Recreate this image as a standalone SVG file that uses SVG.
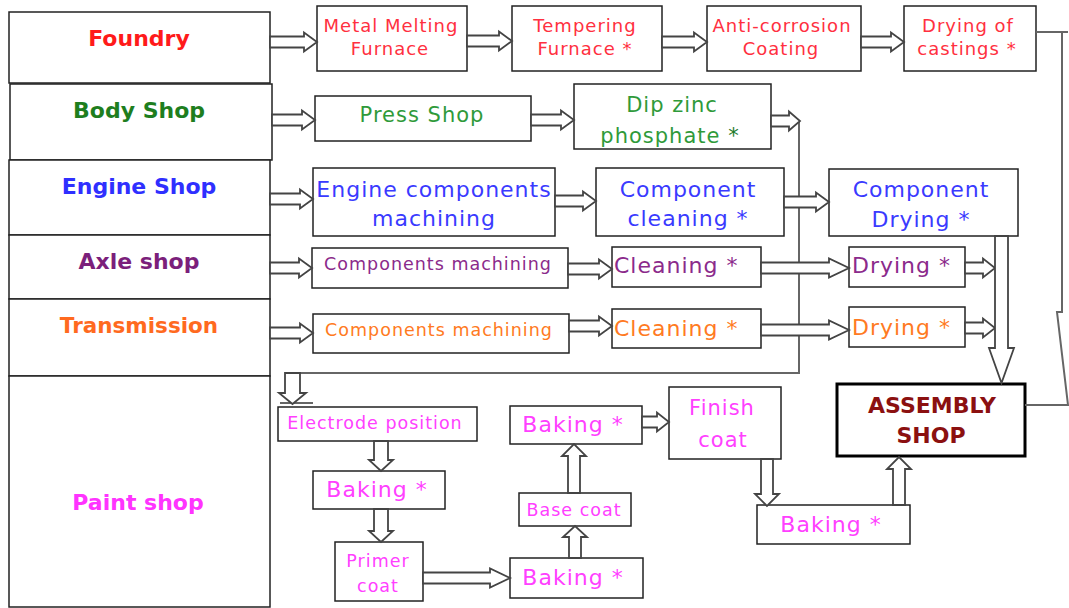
<svg xmlns="http://www.w3.org/2000/svg" width="1069" height="608" viewBox="0 0 1069 608">
<style>
.box{fill:#fff;stroke:#222;stroke-width:1.5}
.asm{fill:#fff;stroke:#000;stroke-width:3}
.arr{fill:#fff;stroke:#444;stroke-width:1.8;stroke-linejoin:miter}
.ln{fill:none;stroke:#666;stroke-width:2}
text{font-family:"DejaVu Sans","Liberation Sans",sans-serif;text-anchor:middle;letter-spacing:1px}
.lbl{font-weight:bold;font-size:22px;letter-spacing:0}
.f{fill:#ff3040;font-size:18px}
.b{fill:#2f9a3a;font-size:21px}
.e{fill:#3a3aff;font-size:22px}
.a{fill:#8b2a8b}
.t{fill:#ff7a22}
.p{fill:#ff40ff}
.s17{font-size:17.5px}
.s22{font-size:22px}
.st{text-anchor:start}
</style>

<g id="foundry"><rect class="box" x="9" y="12" width="261" height="71"/><text class="lbl" x="139" y="46" fill="#ff1a1a">Foundry</text></g>
<g id="body-shop"><rect class="box" x="10" y="84" width="262" height="76"/><text class="lbl" x="139" y="118" fill="#1e7e1e">Body Shop</text></g>
<g id="engine-shop"><rect class="box" x="9" y="160" width="261" height="75"/><text class="lbl" x="139" y="194" fill="#2f2fff">Engine Shop</text></g>
<g id="axle-shop"><rect class="box" x="9" y="235" width="261" height="64"/><text class="lbl" x="139" y="269" fill="#7b1f7b">Axle shop</text></g>
<g id="transmission"><rect class="box" x="9" y="299" width="261" height="77"/><text class="lbl" x="139" y="333" fill="#ff6a1f" style="font-size:21.5px">Transmission</text></g>
<g id="paint-shop"><rect class="box" x="9" y="376" width="261" height="231"/><text class="lbl" x="138" y="510" fill="#ff33ff">Paint shop</text></g>

<g id="metal-melting"><rect class="box" x="317" y="6" width="150" height="65"/><text class="f" x="391" y="32">Metal Melting</text><text class="f" x="390" y="55">Furnace</text></g>
<g id="tempering"><rect class="box" x="512" y="6" width="150" height="65"/><text class="f" x="585" y="32">Tempering</text><text class="f" x="585" y="55">Furnace *</text></g>
<g id="anti-corrosion"><rect class="box" x="707" y="6" width="154" height="65"/><text class="f" x="782" y="32">Anti-corrosion</text><text class="f" x="781" y="55">Coating</text></g>
<g id="drying-castings"><rect class="box" x="904" y="6" width="132" height="65"/><text class="f" x="968" y="32">Drying of</text><text class="f" x="967" y="55">castings *</text></g>

<g id="press-shop"><rect class="box" x="315" y="96" width="216" height="45"/><text class="b" x="422" y="122">Press Shop</text></g>
<g id="dip-zinc"><rect class="box" x="574" y="84" width="197" height="65"/><text class="b" x="672" y="112">Dip zinc</text><text class="b" x="670" y="143">phosphate <tspan fill="#1d7a2a">*</tspan></text></g>

<g id="engine-machining"><rect class="box" x="313" y="168" width="242" height="68"/><text class="e" x="434" y="197">Engine components</text><text class="e" x="434" y="226">machining</text></g>
<g id="component-cleaning"><rect class="box" x="596" y="168" width="188" height="68"/><text class="e" x="688" y="197">Component</text><text class="e" x="688" y="226">cleaning *</text></g>
<g id="component-drying"><rect class="box" x="829" y="169" width="189" height="67"/><text class="e" x="921" y="197">Component</text><text class="e" x="921" y="227">Drying *</text></g>

<g id="axle-machining"><rect class="box" x="312" y="248" width="256" height="40"/><text class="a s17" x="438" y="270">Components machining</text></g>
<g id="axle-cleaning"><rect class="box" x="612" y="247" width="149" height="40"/><text class="a s22 st" x="614" y="273">Cleaning *</text></g>
<g id="axle-drying"><rect class="box" x="849" y="247" width="116" height="40"/><text class="a s22 st" x="852" y="273">Drying *</text></g>

<g id="trans-machining"><rect class="box" x="313" y="314" width="256" height="39"/><text class="t s17" x="439" y="336">Components machining</text></g>
<g id="trans-cleaning"><rect class="box" x="612" y="309" width="149" height="39"/><text class="t s22 st" x="614" y="336">Cleaning *</text></g>
<g id="trans-drying"><rect class="box" x="849" y="307" width="116" height="40"/><text class="t s22 st" x="852" y="335">Drying *</text></g>

<g id="electrode"><rect class="box" x="278" y="407" width="199" height="34"/><text class="p s17" x="375" y="429">Electrode position</text></g>
<g id="baking-1"><rect class="box" x="313" y="471" width="132" height="38"/><text class="p s22" x="377" y="497">Baking *</text></g>
<g id="primer"><rect class="box" x="335" y="542" width="88" height="59"/><text class="p s17" x="378" y="567">Primer</text><text class="p s17" x="378" y="592">coat</text></g>
<g id="baking-2"><rect class="box" x="510" y="558" width="133" height="40"/><text class="p s22" x="573" y="585">Baking *</text></g>
<g id="base-coat"><rect class="box" x="519" y="493" width="112" height="33"/><text class="p s17" x="574" y="516">Base coat</text></g>
<g id="baking-3"><rect class="box" x="510" y="406" width="132" height="38"/><text class="p s22" x="573" y="432">Baking *</text></g>
<g id="finish-coat"><rect class="box" x="669" y="387" width="112" height="72"/><text class="p" x="722" y="415" style="font-size:21px">Finish</text><text class="p" x="723" y="447" style="font-size:21px">coat</text></g>
<g id="baking-4"><rect class="box" x="757" y="505" width="153" height="39"/><text class="p s22" x="831" y="532">Baking *</text></g>

<g id="assembly"><rect class="asm" x="837" y="384" width="188" height="72"/><text class="lbl" x="932" y="413" fill="#8b1010">ASSEMBLY</text><text class="lbl" x="931" y="443" fill="#8b1010">SHOP</text></g>

<g id="connectors">
<path class="ln" d="M1036,32 H1068 M1062,32 V312 H1057 L1068,405 H1025"/>
<path class="ln" d="M799,121 V373 H285"/>
<path class="ln" d="M280,403 H313"/>
<path class="arr" d="M270,36.5 H304 V32.5 L317,42 L304,51.5 V47.5 H270 Z"/>
<path class="arr" d="M272,114.5 H302 V110.5 L315,120 L302,129.5 V125.5 H272 Z"/>
<path class="arr" d="M270,193.5 H300 V189.5 L313,199 L300,208.5 V204.5 H270 Z"/>
<path class="arr" d="M270,262.5 H299 V258.5 L312,268 L299,277.5 V273.5 H270 Z"/>
<path class="arr" d="M270,327.5 H300 V323.5 L313,333 L300,342.5 V338.5 H270 Z"/>
<path class="arr" d="M467,35.5 H499 V31.5 L512,41 L499,50.5 V46.5 H467 Z"/>
<path class="arr" d="M662,36.5 H694 V32.5 L707,42 L694,51.5 V47.5 H662 Z"/>
<path class="arr" d="M861,36.5 H891 V32.5 L904,42 L891,51.5 V47.5 H861 Z"/>
<path class="arr" d="M531,114.5 H561 V110.5 L574,120 L561,129.5 V125.5 H531 Z"/>
<path class="arr" d="M771,115.5 H789 V111.5 L800,121 L789,130.5 V126.5 H771 Z"/>
<path class="arr" d="M555,195.5 H583 V191.5 L596,201 L583,210.5 V206.5 H555 Z"/>
<path class="arr" d="M784,196.5 H816 V192.5 L829,202 L816,211.5 V207.5 H784 Z"/>
<path class="arr" d="M568,263.5 H599 V259.5 L612,269 L599,278.5 V274.5 H568 Z"/>
<path class="arr" d="M761,262.5 H829 V258.5 L849,268 L829,277.5 V273.5 H761 Z"/>
<path class="arr" d="M965,262.5 H983 V258.5 L995,268 L983,277.5 V273.5 H965 Z"/>
<path class="arr" d="M569,320.5 H599 V316.5 L612,326 L599,335.5 V331.5 H569 Z"/>
<path class="arr" d="M761,324.5 H829 V320.5 L849,330 L829,339.5 V335.5 H761 Z"/>
<path class="arr" d="M965,322.5 H983 V318.5 L995,328 L983,337.5 V333.5 H965 Z"/>
<path class="arr" d="M423,572.5 H490 V568.5 L510,578 L490,587.5 V583.5 H423 Z"/>
<path class="arr" d="M642,416.5 H657 V412.5 L669,422 L657,431.5 V427.5 H642 Z"/>
<path class="arr" d="M995,236 V348 H989 L1001.5,383 L1014,348 H1008 V236 Z"/>
<path class="arr" d="M374,441 V460 H369 L381,471 L393,460 H388 V441 Z"/>
<path class="arr" d="M374,509 V531 H369 L381,542 L393,531 H388 V509 Z"/>
<path class="arr" d="M569,558 V537 H563 L575,526 L587,537 H581 V558 Z"/>
<path class="arr" d="M568,493 V456 H562 L574,444 L586,456 H580 V493 Z"/>
<path class="arr" d="M761,459 V494 H755 L767,506 L779,494 H773 V459 Z"/>
<path class="arr" d="M893,505 V469 H887 L899,457 L911,469 H905 V505 Z"/>
<path class="arr" d="M285,373 V393 H279 L292.5,404 L306,393 H300 V373 Z"/>
</g>
</svg>
